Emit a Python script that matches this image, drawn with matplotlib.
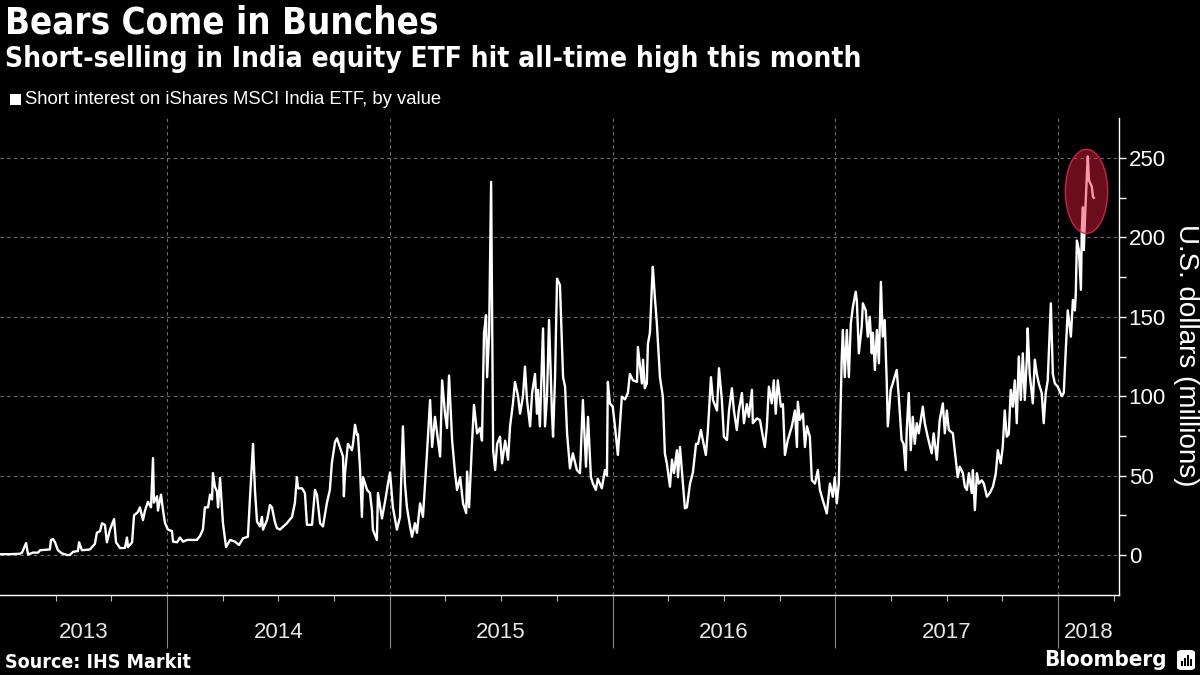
import matplotlib
matplotlib.use("Agg")
import matplotlib.pyplot as plt
import matplotlib.transforms as mtransforms
from matplotlib.patches import Ellipse, Rectangle, FancyBboxPatch
from matplotlib.ticker import FixedLocator, NullFormatter

# ---------------- data (decimal year, short interest in US$ millions) ----------------
years = [
 2013.250,2013.295,2013.340,2013.349,2013.367,2013.376,2013.398,2013.421,2013.430,2013.474,
 2013.479,2013.488,2013.497,2013.510,2013.528,2013.551,2013.564,2013.578,2013.600,2013.605,
 2013.618,2013.654,2013.663,2013.676,2013.685,2013.699,2013.708,2013.721,2013.730,2013.744,
 2013.762,2013.771,2013.789,2013.811,2013.820,2013.825,2013.843,2013.852,2013.869,2013.878,
 2013.892,2013.901,2013.914,2013.928,2013.937,2013.941,2013.955,2013.959,2013.973,2013.982,
 2013.991,2014.004,2014.022,2014.027,2014.045,2014.058,2014.072,2014.090,2014.134,2014.148,
 2014.161,2014.170,2014.184,2014.193,2014.202,2014.206,2014.215,2014.224,2014.229,2014.238,
 2014.247,2014.251,2014.265,2014.283,2014.305,2014.323,2014.341,2014.363,2014.372,2014.386,
 2014.395,2014.404,2014.417,2014.426,2014.431,2014.449,2014.462,2014.471,2014.484,2014.493,
 2014.507,2014.538,2014.561,2014.574,2014.583,2014.588,2014.606,2014.619,2014.628,2014.651,
 2014.664,2014.673,2014.687,2014.700,2014.718,2014.731,2014.740,2014.754,2014.763,2014.776,
 2014.790,2014.794,2014.799,2014.812,2014.830,2014.835,2014.844,2014.853,2014.857,2014.866,
 2014.875,2014.880,2014.898,2014.911,2014.920,2014.924,2014.942,2014.947,2014.965,2014.978,
 2014.992,2015.001,2015.014,2015.032,2015.046,2015.059,2015.068,2015.077,2015.091,2015.100,
 2015.113,2015.122,2015.136,2015.149,2015.167,2015.181,2015.190,2015.203,2015.217,2015.226,
 2015.235,2015.248,2015.257,2015.266,2015.280,2015.293,2015.302,2015.316,2015.329,2015.343,
 2015.347,2015.356,2015.369,2015.378,2015.392,2015.405,2015.414,2015.423,2015.432,2015.437,
 2015.446,2015.455,2015.464,2015.473,2015.482,2015.495,2015.504,2015.518,2015.527,2015.531,
 2015.540,2015.553,2015.562,2015.576,2015.585,2015.598,2015.607,2015.616,2015.630,2015.639,
 2015.652,2015.661,2015.665,2015.674,2015.688,2015.697,2015.706,2015.715,2015.728,2015.733,
 2015.742,2015.751,2015.764,2015.778,2015.787,2015.796,2015.809,2015.822,2015.840,2015.854,
 2015.867,2015.881,2015.890,2015.903,2015.912,2015.925,2015.934,2015.952,2015.966,2015.975,
 2015.979,2015.988,2016.001,2016.011,2016.024,2016.042,2016.056,2016.069,2016.078,2016.092,
 2016.110,2016.114,2016.132,2016.137,2016.145,2016.154,2016.159,2016.168,2016.177,2016.181,
 2016.190,2016.199,2016.213,2016.226,2016.235,2016.244,2016.258,2016.267,2016.276,2016.289,
 2016.294,2016.303,2016.316,2016.325,2016.334,2016.348,2016.361,2016.375,2016.384,2016.397,
 2016.406,2016.419,2016.428,2016.442,2016.451,2016.469,2016.478,2016.491,2016.500,2016.514,
 2016.523,2016.536,2016.545,2016.558,2016.567,2016.581,2016.590,2016.603,2016.612,2016.626,
 2016.630,2016.648,2016.662,2016.675,2016.684,2016.693,2016.702,2016.715,2016.724,2016.733,
 2016.742,2016.756,2016.765,2016.774,2016.787,2016.805,2016.819,2016.828,2016.832,2016.841,
 2016.855,2016.864,2016.873,2016.886,2016.895,2016.909,2016.922,2016.931,2016.944,2016.962,
 2016.976,2016.989,2016.998,2017.007,2017.016,2017.029,2017.034,2017.043,2017.052,2017.061,
 2017.070,2017.079,2017.092,2017.097,2017.106,2017.119,2017.124,2017.137,2017.146,2017.155,
 2017.164,2017.169,2017.178,2017.187,2017.196,2017.205,2017.213,2017.222,2017.231,2017.236,
 2017.249,2017.258,2017.276,2017.285,2017.298,2017.307,2017.316,2017.321,2017.330,2017.339,
 2017.348,2017.357,2017.366,2017.375,2017.393,2017.402,2017.415,2017.433,2017.442,2017.456,
 2017.469,2017.483,2017.492,2017.501,2017.510,2017.528,2017.541,2017.550,2017.559,2017.573,
 2017.582,2017.591,2017.600,2017.613,2017.618,2017.627,2017.636,2017.645,2017.658,2017.667,
 2017.681,2017.694,2017.708,2017.721,2017.730,2017.743,2017.752,2017.761,2017.770,2017.779,
 2017.788,2017.797,2017.806,2017.815,2017.824,2017.833,2017.842,2017.851,2017.860,2017.864,
 2017.873,2017.887,2017.896,2017.905,2017.914,2017.927,2017.936,2017.945,2017.954,2017.968,
 2017.977,2017.986,2017.999,2018.017,2018.026,2018.035,2018.044,2018.058,2018.067,2018.076,
 2018.080,2018.085,2018.094,2018.103,2018.107,2018.112,2018.116,2018.121,2018.130,2018.134,
 2018.139,2018.152,2018.157,2018.161,
]
values = [
 0.5,0.5,0.8,1.5,7.5,0.3,1.5,1.5,3,3.5,
 9.5,10,8,3,1,0,0,2,2.5,8,
 3,3.5,5,7,14,15,20,19,8,16,
 22.6,8,4.4,4.4,11,5,8,25,27,30,
 22,28,33.5,30,61,33,37,28,38,28,
 20,16,15,8.4,8,11,8.4,9.5,9.5,12,
 16,30,30,38,35,51.6,43,40,30,48.5,
 28,20,5,9.5,8.4,6.3,10.5,11.5,35,70,
 40,21,18,24,16,22,31.5,30,21,17,
 16,20,24,32.7,49,42,42,39,19,19,
 41,38,20,18,33,41,58,71,73.5,68,
 62,37,51.6,70,66,70,82,75.5,76,55.6,
 24,49,41,39,28,16,9.5,39,23,33,
 45,52,30,16,24,81,45,30,18,11.5,
 20,14,32.5,24,64,97.6,68,87,72,62,
 110,89,80,113,72,51.6,41,49,32.5,26.4,
 52.5,30,70,94.5,76.6,80,72,139.6,151,112,
 139.6,235,66,53.5,70,74.5,57.7,72,64,60,
 81,95.5,109,100,89,100,118.6,97.6,81,102,
 114,89,104,81,142.7,81,100,148,90,74.5,
 112,174,170,112,106,76.6,54.6,64,53.5,51.5,
 97.6,55.6,87,49,45,41,48,42,53.5,50,
 109,95.5,93.4,81,63,99.7,98,102,114,110,
 109,131,108,123,105,108,133,140,170,181.5,
 162.6,146,112,99.7,64,57.7,43,60,51.5,66,
 49,68,45,29.4,30,45,52,70,70,78.7,
 72,63,78,112,97.6,91,117.6,97.6,74.5,72.4,
 91,105,91,78.7,91,102,83,95,87,104,
 83,86,85,74.5,68,81,106,95.5,110,89,
 110,93.4,95,63,72.4,81,91,68,96.5,85,
 89,68,81,74.5,47,45,53.5,41,34.6,26.2,
 45,36.7,49,32.5,45,123,141.7,112,141.7,112,
 146,156,165.8,160,127,143.8,158.5,154,137.5,150,
 127,140,116.5,141.7,120.7,172,137.5,148,110,81,
 104,108,116.5,100,72.4,70,53.5,78.7,102,66,
 87,70,83,76.6,93.4,83,74.5,64,76.6,60,
 85,95.5,76.6,91,78.7,76.6,60,49,55.6,51.5,
 43,41,51.5,39,53.5,28.3,51.5,45,47,45,
 36.7,39,43,51.5,66,57.7,68,91,74.5,76,
 104,93.4,110,83,125,97.6,127,97.6,123,142.7,
 114,95.5,123,114,108,102,83,102,110,158.5,
 114,108,106,100,102,129,154,137.5,160.6,154,
 165,198,192,167,204.7,219,192,211,240,251,
 236,232,225.6,225,
]
year_boundaries = [2014, 2015, 2016, 2017, 2018]
year_labels = ["2013", "2014", "2015", "2016", "2017", "2018"]
y_ticks = [0, 50, 100, 150, 200, 250]

title = "Bears Come in Bunches"
subtitle = "Short-selling in India equity ETF hit all-time high this month"
legend_label = "Short interest on iShares MSCI India ETF, by value"
y_label = "U.S. dollars (millions)"
source = "Source: IHS Markit"

# ---------------- figure ----------------
BOLD = dict(family=["DejaVu Sans"], fontstretch="condensed", fontweight="bold")
NARROW = dict(family=["Liberation Sans Narrow", "Liberation Sans", "DejaVu Sans"])

fig = plt.figure(figsize=(12, 6.75), dpi=100, facecolor="black")
ax = fig.add_axes([0.0, 0.1185, 0.9325, 0.7067])
ax.set_facecolor("black")

x0, x1 = 2013.25, 2018.274
ax.set_xlim(x0, x1)
ax.set_ylim(-25.2, 275.2)

ax.plot(years, values, color="white", lw=1.7, zorder=3, solid_joinstyle="round")

# highlight ellipse around the record high
ell = Ellipse((2018.128, 229), width=0.19, height=53,
              facecolor=(0.93, 0.12, 0.25, 0.45), edgecolor=(0.85, 0.15, 0.3, 0.9),
              lw=1.0, zorder=4)
ax.add_patch(ell)

# grid
for yv in y_ticks:
    ax.axhline(yv, color="#6e6e6e", lw=0.8, ls=(0, (3, 3)), zorder=1)
for xb in year_boundaries:
    ax.axvline(xb, color="#6e6e6e", lw=0.8, ls=(0, (3, 3)), zorder=1)

# spines
for s in ["left", "top"]:
    ax.spines[s].set_visible(False)
for s in ["right", "bottom"]:
    ax.spines[s].set_color("white")
    ax.spines[s].set_linewidth(1.0)

# y axis on the right
ax.yaxis.tick_right()
ax.set_yticks(y_ticks)
ax.yaxis.set_minor_locator(FixedLocator([25, 75, 125, 175, 225]))
ax.tick_params(axis="y", which="both", direction="out", length=5, width=1,
               color="white", labelcolor="white", labelsize=16, pad=2)
for lab in ax.get_yticklabels():
    lab.set_family(NARROW["family"])

# x axis: long year separators + quarterly minor ticks
ax.set_xticks(year_boundaries)
ax.set_xticklabels([])
quarters = [x0 + 0.25 * i for i in range(1, 21) if abs((x0 + 0.25 * i) % 1) > 1e-6]
ax.xaxis.set_minor_locator(FixedLocator(quarters))
ax.xaxis.set_minor_formatter(NullFormatter())
ax.tick_params(axis="x", which="major", direction="out", length=38, width=0.8, color="#8a8a8a")
ax.tick_params(axis="x", which="minor", direction="out", length=4, width=0.8, color="#bbbbbb")

# year labels centred in each visible year span
edges = [x0] + year_boundaries + [x1]
trans = mtransforms.blended_transform_factory(ax.transData, fig.transFigure)
for i, lab in enumerate(year_labels):
    mid = (edges[i] + edges[i + 1]) / 2
    ax.text(mid, 1 - 632 / 675, lab, transform=trans, ha="center", va="center",
            color="#e8e8e8", fontsize=16, clip_on=False, **NARROW)

# texts
fig.text(5 / 1200, 1 - 5 / 675, title, color="white", fontsize=26.3, ha="left", va="top", **BOLD)
fig.text(5 / 1200, 1 - 45 / 675, subtitle, color="white", fontsize=20.2, ha="left", va="top", **BOLD)
fig.patches.append(Rectangle((10 / 1200, 1 - 105 / 675), 11 / 1200, 11 / 675,
                             transform=fig.transFigure, facecolor="white", edgecolor="none"))
fig.text(25 / 1200, 1 - 100 / 675, legend_label, color="white", fontsize=13.3, ha="left",
         va="center", **NARROW)
fig.text(1186 / 1200, 1 - 355 / 675, y_label, color="white", fontsize=20, rotation=270,
         ha="center", va="center", **NARROW)
fig.text(5 / 1200, 1 - 662 / 675, source, color="white", fontsize=14, ha="left",
         va="center", **BOLD)
fig.text(1167 / 1200, 1 - 660 / 675, "Bloomberg", color="white", fontsize=16, ha="right",
         va="center", **BOLD)
# small logo box
fig.patches.append(FancyBboxPatch((1177 / 1200, 1 - 670 / 675), 18 / 1200, 20 / 675,
                                  boxstyle="round,pad=0,rounding_size=0.004",
                                  transform=fig.transFigure, facecolor="white", edgecolor="none"))
for bx, bh in [(1181, 5), (1184, 8), (1187, 11), (1190, 7)]:
    fig.patches.append(Rectangle((bx / 1200, 1 - 666 / 675), 2 / 1200, bh / 675,
                                 transform=fig.transFigure, facecolor="black", edgecolor="none"))

fig.savefig("out.png", dpi=100, facecolor="black")
